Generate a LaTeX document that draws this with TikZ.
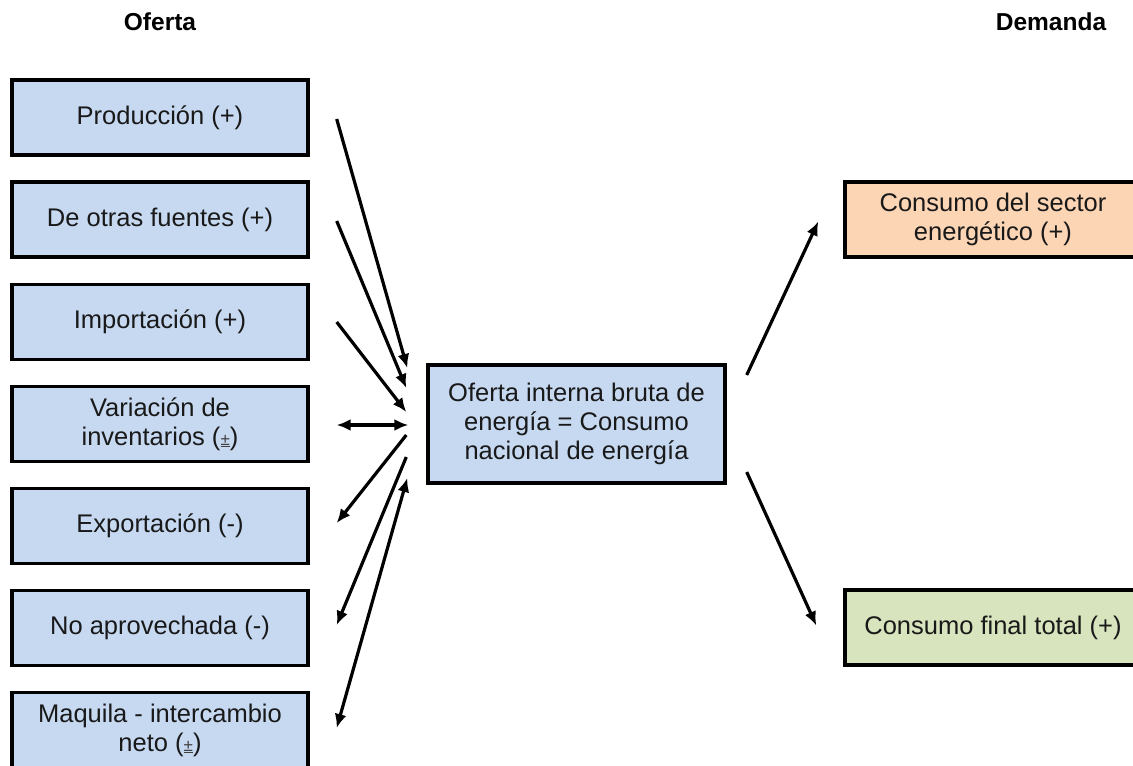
\documentclass[tikz,border=0pt]{standalone}
\usepackage{fontspec}
\setmainfont{Liberation Sans}
\usetikzlibrary{arrows.meta}

\definecolor{azulcaja}{RGB}{198,217,241}
\definecolor{naranjacaja}{RGB}{252,213,181}
\definecolor{verdecaja}{RGB}{215,228,189}
\definecolor{textocaja}{RGB}{25,25,25}

\newcommand{\masmenos}{{\fontsize{17}{20}\selectfont\color{black!75}\underline{±}}}

\tikzset{
  caja/.style={draw=black, line width=3.4pt, minimum width=296pt, minimum height=75pt,
    align=center, inner sep=2pt, text=textocaja, font=\fontsize{25.5}{29}\selectfont},
  titulo/.style={font=\bfseries\fontsize{24.5}{29}\selectfont},
  flecha/.style={line width=3.2pt}
}

\begin{document}
\begin{tikzpicture}[x=1pt,y=1pt,>={Latex[length=14pt,width=12pt]}]
    \useasboundingbox (0,0) rectangle (1133,-766);

    \node[titulo] (oferta) at (160,-22) {Oferta};
    \node[titulo] (demanda) at (1051,-22) {Demanda};

    % oferta
    \node[caja,fill=azulcaja] (prod) at (160,-117.5) {Producción (+)};
    \node[caja,fill=azulcaja] (fuentes) at (160,-219.5) {De otras fuentes (+)};
    \node[caja,fill=azulcaja] (imp) at (160,-322) {Importación (+)};
    \node[caja,fill=azulcaja] (inv) at (160,-424) {Variación de\\inventarios (\masmenos)};
    \node[caja,fill=azulcaja] (exp) at (160,-526) {Exportación (-)};
    \node[caja,fill=azulcaja] (noap) at (160,-628) {No aprovechada (-)};
    \node[caja,fill=azulcaja] (maq) at (160,-730) {Maquila - intercambio\\neto (\masmenos)};

    \node[caja,fill=azulcaja,minimum width=297pt,minimum height=118pt] (oib) at (576.5,-424)
        {Oferta interna bruta de\\energía = Consumo\\nacional de energía};

    % demanda
    \node[caja,fill=naranjacaja] (sector) at (993,-219.5) {Consumo del sector\\energético (+)};
    \node[caja,fill=verdecaja] (final) at (993,-627.5) {Consumo final total (+)};

    \draw[flecha,->] ([xshift=27pt,yshift=-1.5pt]prod.east) -- ([xshift=-19pt,yshift=56pt]oib.west);
    \draw[flecha,->] ([xshift=27pt,yshift=-1.5pt]fuentes.east) -- ([xshift=-20pt,yshift=36pt]oib.west);
    \draw[flecha,->] ([xshift=27pt]imp.east) -- ([xshift=-20pt,yshift=12pt]oib.west);
    \draw[flecha,<->] ([xshift=27pt,yshift=-1pt]inv.east) -- ([xshift=-18pt,yshift=-1pt]oib.west);
    \draw[flecha,->] ([xshift=-20pt,yshift=-11pt]oib.west) -- ([xshift=27pt,yshift=3pt]exp.east);
    \draw[flecha,->] ([xshift=-20pt,yshift=-33pt]oib.west) -- ([xshift=27pt,yshift=3pt]noap.east);
    \draw[flecha,<->] ([xshift=-19pt,yshift=-54pt]oib.west) -- ([xshift=27pt,yshift=2pt]maq.east);

    \draw[flecha,->] ([xshift=20pt,yshift=49pt]oib.east) -- ([xshift=-25pt,yshift=-2pt]sector.west);
    \draw[flecha,->] ([xshift=20pt,yshift=-48pt]oib.east) -- ([xshift=-27pt,yshift=2pt]final.west);
\end{tikzpicture}
\end{document}
